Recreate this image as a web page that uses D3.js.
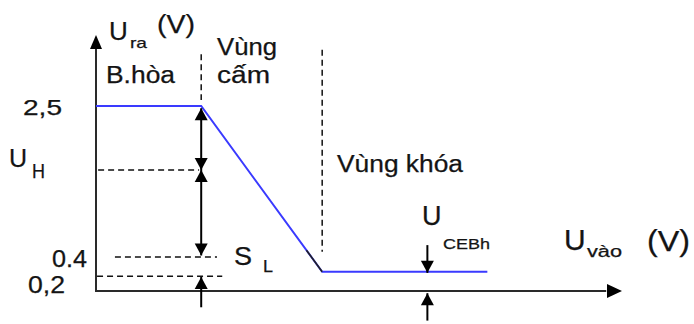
<!DOCTYPE html>
<html>
<head>
<meta charset="utf-8">
<script src="https://cdn.jsdelivr.net/npm/d3@7"></script>
<style>
  html, body { margin: 0; padding: 0; background: #fff; }
  svg { display: block; }
  text { font-family: "Liberation Sans", Arial, sans-serif; fill: #141414; stroke: #141414; stroke-width: 0.25; }
</style>
</head>
<body>
<svg id="chart" width="694" height="324"></svg>
<script>
// ---- data ----
const curveX = [0, 1.0, 2.15, 3.72];          // U_vào (arbitrary units)
const curveY = [2.5, 2.5, 0.26, 0.26];        // U_ra (V)
const levelValues = [2.5, 1.635, 0.46, 0.2];  // y levels of marked values
const levelLabels = ["2,5", "U", "0.4", "0,2"];
const regionBounds = [1.0, 2.15];             // x of the region dividers
const regionLabels = ["B.hòa", "Vùng", "cấm", "Vùng khóa"];
const uCEBhX = 3.15;

const svg = d3.select("#chart");
const x = d3.scaleLinear().domain([0, 5]).range([96, 622]);
const y = d3.scaleLinear().domain([0, 2.5]).range([291, 106]);

const axisColor = "#2a2a2a";

// ---- axes ----
svg.append("line").attr("x1", x(0)).attr("x2", x(0))
  .attr("y1", y(0) + 1).attr("y2", y(3.3))
  .attr("stroke", axisColor).attr("stroke-width", 2);
svg.append("line").attr("x1", x(0) - 1).attr("x2", x(4.85))
  .attr("y1", y(0)).attr("y2", y(0))
  .attr("stroke", axisColor).attr("stroke-width", 2);
// axis arrowheads
const yTip = y(3.46);
svg.append("path")
  .attr("d", `M${x(0)},${yTip} L${x(0) - 6},${yTip + 14} L${x(0) + 6},${yTip + 14} Z`)
  .attr("fill", "#000");
const xTip = x(5);
svg.append("path")
  .attr("d", `M${xTip},${y(0)} L${xTip - 15},${y(0) - 7} L${xTip - 15},${y(0) + 7} Z`)
  .attr("fill", "#000");

// ---- dashed guide lines ----
const dash = "6,4";
const hGuides = [
  {v: levelValues[1], x0: 0.02, x1: 0.98},
  {v: levelValues[2], x0: 0.18, x1: 1.15},
  {v: levelValues[3], x0: 0.01, x1: 1.2}
];
svg.selectAll(".hg").data(hGuides).enter().append("line")
  .attr("x1", d => x(d.x0)).attr("x2", d => x(d.x1))
  .attr("y1", d => y(d.v)).attr("y2", d => y(d.v))
  .attr("stroke", "#111").attr("stroke-width", 1.5).attr("stroke-dasharray", dash);
const vGuides = [
  {v: regionBounds[0], y0: 3.2, y1: 2.58},
  {v: regionBounds[1], y0: 3.26, y1: 0.53}
];
svg.selectAll(".vg").data(vGuides).enter().append("line")
  .attr("x1", d => x(d.v)).attr("x2", d => x(d.v))
  .attr("y1", d => y(d.y0)).attr("y2", d => y(d.y1))
  .attr("stroke", "#111").attr("stroke-width", 1.5).attr("stroke-dasharray", dash);

// ---- transfer curve ----
const line = d3.line().x((d, i) => x(curveX[i])).y((d, i) => y(curveY[i]));
svg.append("path").datum(curveX).attr("d", line)
  .attr("fill", "none").attr("stroke", "#3a3aff").attr("stroke-width", 2);
// darker bit near the knee
const t = 0.87;
svg.append("line")
  .attr("x1", x(curveX[1] + (curveX[2] - curveX[1]) * t))
  .attr("y1", y(curveY[1] + (curveY[2] - curveY[1]) * t))
  .attr("x2", x(curveX[2])).attr("y2", y(curveY[2]))
  .attr("stroke", "#222").attr("stroke-width", 1.6);

// ---- dimension arrows ----
function head(px, py, dir) { // dir: -1 up, +1 down (tip at px,py)
  const L = 12, W = 6.5;
  svg.append("path")
    .attr("d", `M${px},${py} L${px - W},${py - dir * L} L${px + W},${py - dir * L} Z`)
    .attr("fill", "#000");
}
function vArrow(xv, yTop, yBot, headTop, headBot) {
  const px = x(xv);
  svg.append("line").attr("x1", px).attr("x2", px)
    .attr("y1", y(yTop)).attr("y2", y(yBot))
    .attr("stroke", "#000").attr("stroke-width", 2);
  if (headTop) head(px, y(yTop), -1);
  if (headBot) head(px, y(yBot), 1);
}
vArrow(regionBounds[0], 2.47, levelValues[1], true, true);
vArrow(regionBounds[0], levelValues[1], 0.48, true, true);
vArrow(regionBounds[0], 0.19, -0.22, true, false);
vArrow(uCEBhX, 0.62, 0.245, false, true);
vArrow(uCEBhX, -0.03, -0.4, true, false);

// ---- text ----
function txt(s, px, py, size, len) {
  const el = svg.append("text").attr("x", px).attr("y", py)
    .attr("font-size", size).text(s);
  if (len) el.attr("textLength", len).attr("lengthAdjust", "spacingAndGlyphs");
  return el;
}
// y-axis title
txt("U", 109, 40, 26);
txt("ra", 130, 48, 15, 17);
txt("(V)", 157, 33, 25, 38);
// region labels
txt(regionLabels[0], 106, 83, 23, 69);
txt(regionLabels[1], 217, 55, 23, 60);
txt(regionLabels[2], 217, 83, 23, 53);
txt(regionLabels[3], 337, 172, 23, 126);
// level labels
txt(levelLabels[0], 23, y(levelValues[0]) + 9, 22, 39);
txt(levelLabels[1], 9, y(levelValues[1]) - 3, 25);
txt("H", 32, y(levelValues[1]) + 8, 20, 13);
txt(levelLabels[2], 52, y(levelValues[2]) + 10, 23, 35);
txt(levelLabels[3], 28, y(levelValues[3]) + 17, 23, 37);
// S_L
txt("S", 234, 265, 25, 18);
txt("L", 263, 272, 17, 10);
// U_CEBh
txt("U", 422, 225, 27);
txt("CEBh", 443, 249, 15, 47);
// x-axis title
txt("U", 564, 250, 30);
txt("vào", 587, 257, 16, 35);
txt("(V)", 647, 251, 30, 43);
</script>
</body>
</html>
